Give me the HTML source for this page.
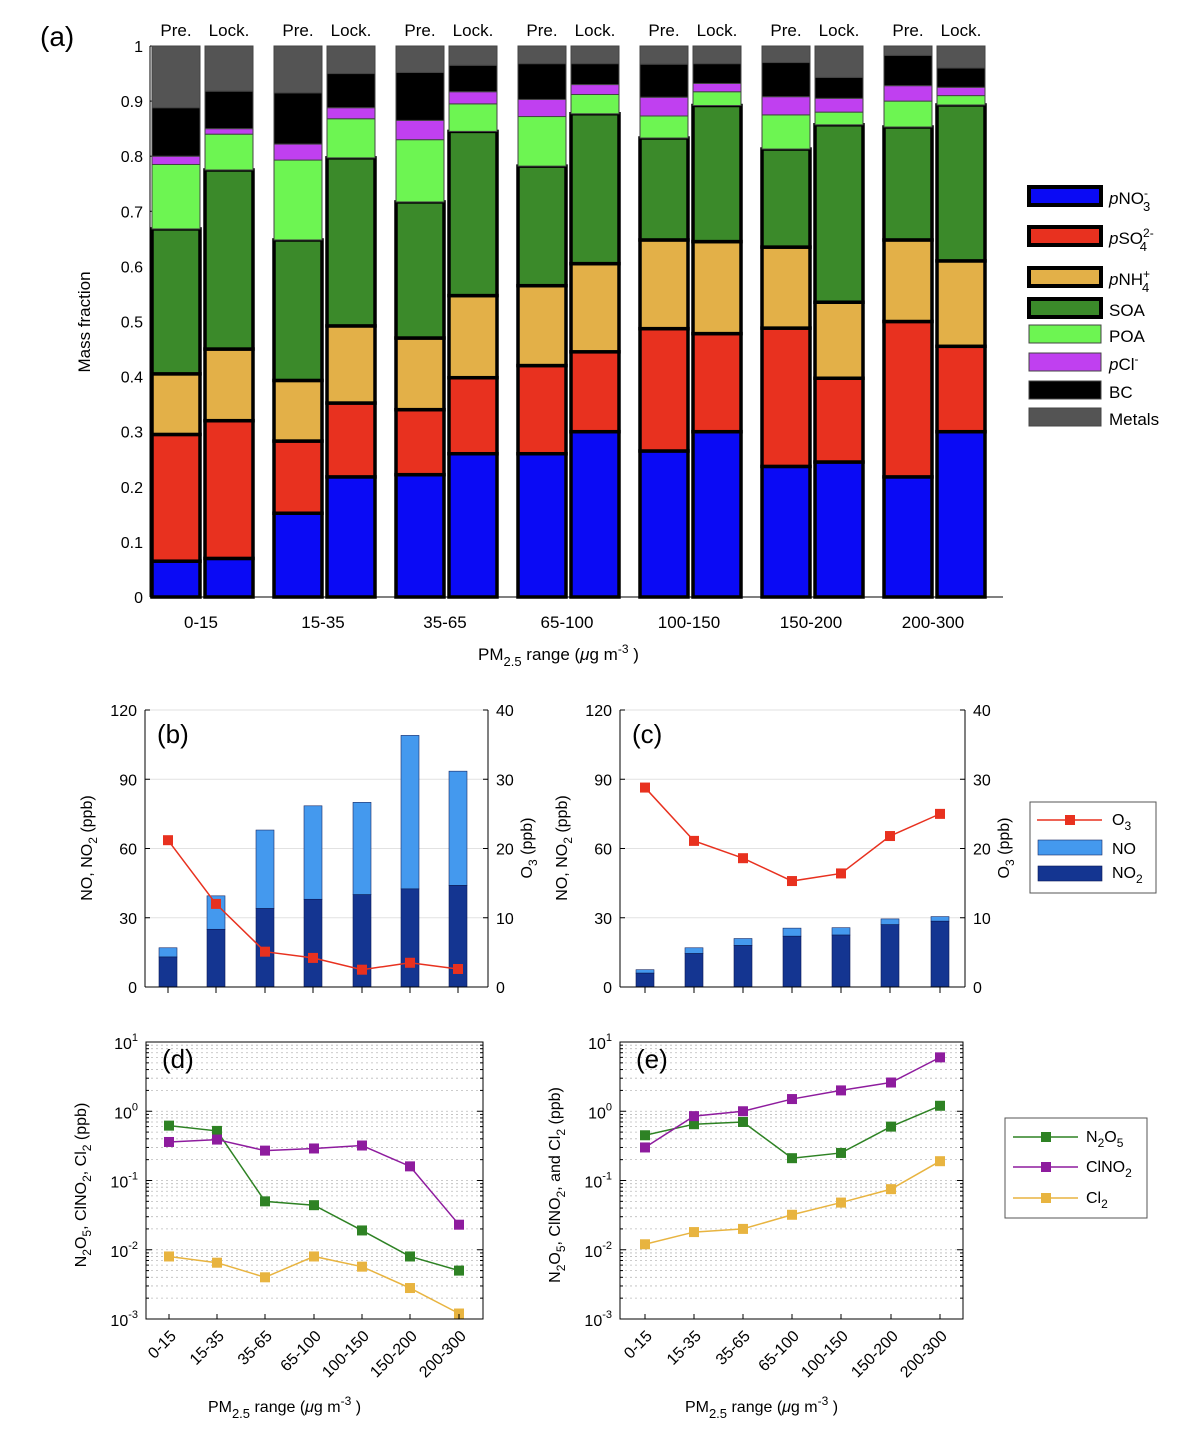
<!DOCTYPE html>
<html><head><meta charset="utf-8"><style>
body{margin:0;background:#fff;}
svg{font-family:"Liberation Sans",Arial,sans-serif;}
</style></head><body>
<svg id="s" width="1180" height="1434" xmlns="http://www.w3.org/2000/svg"></svg>
<script>
const S=document.getElementById('s');let h='';
function R(x,y,w,ht,f,sw,st){h+=`<rect x="${x}" y="${y}" width="${w}" height="${ht}" fill="${f}" stroke="${st||'#000'}" stroke-width="${sw}"/>`;}
function L(x1,y1,x2,y2,c,w,d){h+=`<line x1="${x1}" y1="${y1}" x2="${x2}" y2="${y2}" stroke="${c}" stroke-width="${w}" ${d?'stroke-dasharray="'+d+'"':''}/>`;}
function T(x,y,t,sz,a,extra){h+=`<text x="${x}" y="${y}" font-size="${sz}" text-anchor="${a||'start'}" ${extra||''}>${t}</text>`;}
const cols=['#0a0af5','#e8311f','#e3b048','#3b8a2a','#6df552','#c040f0','#000','#545454'];
const data=[
[0.065,0.295,0.405,0.668,0.785,0.8,0.888,1],[0.07,0.32,0.45,0.775,0.84,0.85,0.918,1],
[0.152,0.283,0.393,0.648,0.793,0.822,0.915,1],[0.218,0.352,0.492,0.797,0.868,0.888,0.95,1],
[0.222,0.34,0.47,0.717,0.83,0.865,0.952,1],[0.26,0.398,0.547,0.845,0.895,0.917,0.965,1],
[0.26,0.42,0.565,0.782,0.872,0.903,0.968,1],[0.3,0.445,0.605,0.877,0.912,0.93,0.968,1],
[0.265,0.487,0.648,0.833,0.873,0.907,0.967,1],[0.3,0.478,0.645,0.892,0.917,0.932,0.968,1],
[0.237,0.488,0.635,0.813,0.875,0.908,0.97,1],[0.245,0.397,0.535,0.857,0.88,0.905,0.943,1],
[0.218,0.5,0.648,0.853,0.9,0.928,0.983,1],[0.3,0.455,0.61,0.893,0.91,0.925,0.96,1]];
const ay=v=>597-551*v;
const cats=['0-15','15-35','35-65','65-100','100-150','150-200','200-300'];
L(150,46,150,597,'#000',1);L(150,597,1003,597,'#000',1);
for(let i=0;i<=10;i++){let v=i/10,y=ay(v);L(150,y,156,y,'#000',1);T(143,y+6,i==0?'0':i==10?'1':v.toFixed(1),16,'end');}
for(let b=0;b<14;b++){const c=201+122*Math.floor(b/2);const x=b%2==0?c-49:c+4;let prev=0;
 for(let k=0;k<8;k++){const v=data[b][k];const y0=ay(prev),y1=ay(v);R(x,y1,48,y0-y1,cols[k],k<4?3.5:1,k>=4?'#444':'#000');prev=v;}
 T(x+24,36,b%2==0?'Pre.':'Lock.',17,'middle');}
cats.forEach((c,i)=>{const x=201+122*i;L(x,597,x,591,'#000',1);T(x,628,c,17,'middle');});
T(40,46,'(a)',28);
h+=`<text x="90" y="322" font-size="17" text-anchor="middle" transform="rotate(-90 90 322)">Mass fraction</text>`;
T(478,660,'PM<tspan font-size="13" dy="6">2.5</tspan><tspan dy="-6"> range (</tspan><tspan font-style="italic">μ</tspan>g m<tspan font-size="12" dy="-7">-3</tspan><tspan dy="7"> )</tspan>',17);
const lg=[['<tspan font-style="italic">p</tspan>NO<tspan font-size="12" dy="-7">-</tspan><tspan font-size="13" dx="-5" dy="14">3</tspan>',197],
['<tspan font-style="italic">p</tspan>SO<tspan font-size="12" dy="-7">2-</tspan><tspan font-size="13" dx="-14" dy="14">4</tspan>',237],
['<tspan font-style="italic">p</tspan>NH<tspan font-size="12" dy="-7">+</tspan><tspan font-size="13" dx="-8" dy="14">4</tspan>',278],
['SOA',309],['POA',335],['<tspan font-style="italic">p</tspan>Cl<tspan font-size="12" dy="-7">-</tspan>',363],['BC',391],['Metals',418]];
lg.forEach((l,i)=>{const y=l[1];R(1029,y-10,72,18,cols[i],i<4?4:1,i<4?'#000':'#444');T(1109,y+7,l[0],17);});
function bars(x0,x1,catx,no2,tot,o3,lab){
 const yb=v=>987-v*277/120,yr=v=>987-v*277/40;
 [30,60,90,120].forEach(v=>L(x0,yb(v),x1,yb(v),'#e2e2e2',1));
 catx.forEach((c,i)=>{R(c-9,yb(tot[i]),18,yb(no2[i])-yb(tot[i]),'#4499ee',0.6,'#1a2a66');R(c-9,yb(no2[i]),18,987-yb(no2[i]),'#143591',0.6,'#0a1a55');L(c,987,c,993,'#000',1);});
 let p=catx.map((c,i)=>c+','+yr(o3[i])).join(' ');h+=`<polyline points="${p}" fill="none" stroke="#e8311f" stroke-width="1.5"/>`;
 catx.forEach((c,i)=>R(c-5,yr(o3[i])-5,10,10,'#e8311f',0));
 L(x0,710,x0,987,'#000',1);L(x1,710,x1,987,'#000',1);L(x0,987,x1,987,'#000',1);
 [0,30,60,90,120].forEach(v=>{L(x0,yb(v),x0+5,yb(v),'#000',1);T(x0-8,yb(v)+6,v,16,'end');});
 [0,10,20,30,40].forEach(v=>{L(x1,yr(v),x1-5,yr(v),'#000',1);T(x1+8,yr(v)+6,v,16);});
 T(x0+12,743,lab,26);
 h+=`<text x="${x0-53}" y="848" font-size="16" text-anchor="middle" transform="rotate(-90 ${x0-53} 848)">NO, NO<tspan font-size="12" dy="5">2</tspan><tspan dy="-5"> (ppb)</tspan></text>`;
 h+=`<text x="${x1+44}" y="848" font-size="16" text-anchor="middle" transform="rotate(-90 ${x1+44} 848)">O<tspan font-size="12" dy="5">3</tspan><tspan dy="-5"> (ppb)</tspan></text>`;
}
const cb=[168,216,265,313,362,410,458],cc=[645,694,743,792,841,890,940];
bars(145,488,cb,[13,25,34,38,40,42.5,44],[17,39.5,68,78.5,80,109,93.5],[21.2,12,5.1,4.2,2.5,3.5,2.6],'(b)');
bars(620,965,cc,[6,14.5,18,22,22.5,27,28.5],[7.5,17,21,25.5,25.7,29.5,30.5],[28.8,21.1,18.6,15.3,16.4,21.8,25],'(c)');
R(1030,802,126,91,'#fff',1,'#555');
L(1037,820,1102,820,'#e8311f',1.5);R(1065,815,10,10,'#e8311f',0);T(1112,825,'O<tspan font-size="12" dy="5">3</tspan>',16);
R(1038,840,64,15,'#4499ee',0.6,'#1a2a66');T(1112,854,'NO',16);
R(1038,866,64,15,'#143591',0.6,'#0a1a55');T(1112,878,'NO<tspan font-size="12" dy="5">2</tspan>',16);
function logp(x0,x1,catx,series,lab,ylab){
 const yt=1042,yb0=1319,dec=(yb0-yt)/4;const yl=v=>yb0-(Math.log10(v)+3)*dec;
 for(let d=-3;d<1;d++)for(let m=2;m<=10;m++){const y=yl(m*Math.pow(10,d));L(x0,y,x1,y,'#bbb',0.8,'2,3');}
 for(let d=-3;d<=1;d++)for(let m=1;m<=9;m++){if(d==1&&m>1)break;const y=yl(m*Math.pow(10,d));const w=m==1?6:3;L(x0,y,x0+w,y,'#000',1);L(x1,y,x1-w,y,'#000',1);}
 series.forEach(s=>{let p=catx.map((c,i)=>c+','+yl(s.v[i])).join(' ');h+=`<polyline points="${p}" fill="none" stroke="${s.c}" stroke-width="1.5"/>`;catx.forEach((c,i)=>R(c-5,yl(s.v[i])-5,10,10,s.c,0));});
 h+=`<rect x="${x0}" y="${yt}" width="${x1-x0}" height="${yb0-yt}" fill="none" stroke="#000" stroke-width="1"/>`;
 [-3,-2,-1,0,1].forEach(e=>T(x0-8,yl(Math.pow(10,e))+7,`10<tspan font-size="11" dy="-8">${e}</tspan>`,16,'end'));
 catx.forEach((c,i)=>{L(c,yb0,c,yb0-5,'#000',1);h+=`<text x="${c+8}" y="${yb0+18}" font-size="16" text-anchor="end" transform="rotate(-45 ${c+8} ${yb0+18})">${cats[i]}</text>`;});
 T(x0+16,1068,lab,26);
 T((x0+x1)/2-30,1412,'PM<tspan font-size="13" dy="6">2.5</tspan><tspan dy="-6"> range (</tspan><tspan font-style="italic">μ</tspan>g m<tspan font-size="12" dy="-7">-3</tspan><tspan dy="7"> )</tspan>',16,'middle');
 h+=`<text x="${x0-60}" y="1185" font-size="16" text-anchor="middle" transform="rotate(-90 ${x0-60} 1185)">${ylab}</text>`;
}
const G='#2e8224',P='#8e1c9e',Y='#e8b440';
const cd=[169,217,265,314,362,410,459],ce=[645,694,743,792,841,891,940];
logp(146,483,cd,[{c:G,v:[0.62,0.52,0.05,0.044,0.019,0.008,0.005]},{c:P,v:[0.36,0.39,0.27,0.29,0.32,0.16,0.023]},{c:Y,v:[0.008,0.0065,0.004,0.008,0.0057,0.0028,0.0012]}],'(d)',
'N<tspan font-size="12" dy="5">2</tspan><tspan dy="-5">O</tspan><tspan font-size="12" dy="5">5</tspan><tspan dy="-5">, ClNO</tspan><tspan font-size="12" dy="5">2</tspan><tspan dy="-5">, Cl</tspan><tspan font-size="12" dy="5">2</tspan><tspan dy="-5"> (ppb)</tspan>');
logp(620,963,ce,[{c:G,v:[0.45,0.65,0.7,0.21,0.25,0.6,1.2]},{c:P,v:[0.3,0.85,1.0,1.5,2.0,2.6,6.0]},{c:Y,v:[0.012,0.018,0.02,0.032,0.048,0.075,0.19]}],'(e)',
'N<tspan font-size="12" dy="5">2</tspan><tspan dy="-5">O</tspan><tspan font-size="12" dy="5">5</tspan><tspan dy="-5">, ClNO</tspan><tspan font-size="12" dy="5">2</tspan><tspan dy="-5">, and Cl</tspan><tspan font-size="12" dy="5">2</tspan><tspan dy="-5"> (ppb)</tspan>');
R(1005,1118,142,100,'#fff',1,'#555');
[[G,'N<tspan font-size="12" dy="5">2</tspan><tspan dy="-5">O</tspan><tspan font-size="12" dy="5">5</tspan>',1137],[P,'ClNO<tspan font-size="12" dy="5">2</tspan>',1167],[Y,'Cl<tspan font-size="12" dy="5">2</tspan>',1198]].forEach(l=>{L(1013,l[2],1078,l[2],l[0],1.5);R(1041,l[2]-5,10,10,l[0],0);T(1086,l[2]+5,l[1],16);});
S.innerHTML=h;
</script>
</body></html>
